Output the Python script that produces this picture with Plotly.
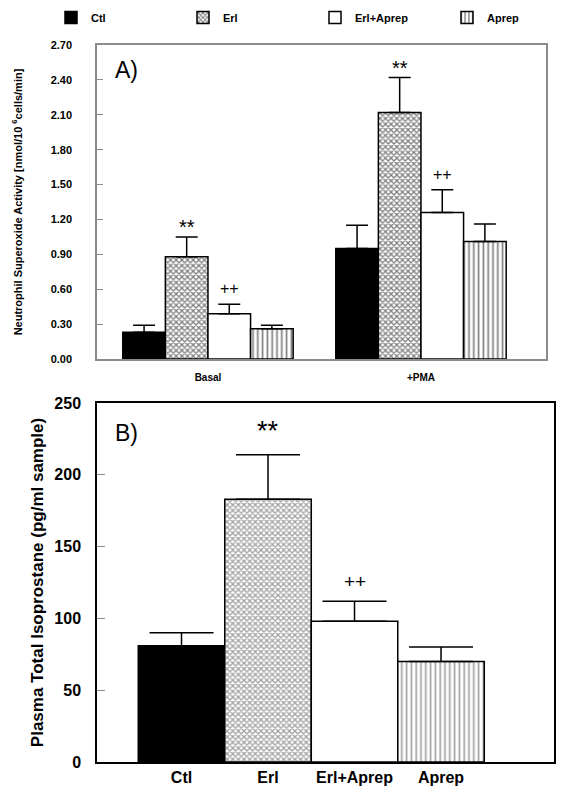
import plotly.graph_objects as go

# ---------------- data ----------------
groups_a = ["Basal", "+PMA"]
group_pos_a = [0, 1]
treatments = ["Ctl", "Erl", "Erl+Aprep", "Aprep"]

a_values = {
    "Ctl": [0.23, 0.95],
    "Erl": [0.88, 2.12],
    "Erl+Aprep": [0.39, 1.26],
    "Aprep": [0.26, 1.01],
}
a_errors = {
    "Ctl": [0.06, 0.20],
    "Erl": [0.17, 0.30],
    "Erl+Aprep": [0.08, 0.195],
    "Aprep": [0.03, 0.15],
}
a_ticks = [0.00, 0.30, 0.60, 0.90, 1.20, 1.50, 1.80, 2.10, 2.40, 2.70]

b_pos = [0, 1, 2, 3]
b_values = [81, 183, 98, 70]
b_errors = [9, 31, 14, 10]
b_ticks = [0, 50, 100, 150, 200, 250]

sig_marks = {"Erl": "**", "Erl+Aprep": "++"}

# ---------------- layout helpers (page has an 8px body margin) ----------------
OFF = 8
W, H = 575 - OFF, 788 - OFF


def px(x):
    return (x - OFF) / W


def py(y):
    return 1 - (y - OFF) / H


# ---------------- styles ----------------
FONT = "Arial, Liberation Sans, sans-serif"
styles = {
    "Ctl": dict(color="black", pattern=dict(shape="")),
    "Erl": dict(color="white", pattern=dict(shape="x", size=4, solidity=0.55, fgcolor="black", bgcolor="white")),
    "Erl+Aprep": dict(color="white", pattern=dict(shape="")),
    "Aprep": dict(color="white", pattern=dict(shape="|", size=4.8, solidity=0.35, fgcolor="black", bgcolor="white")),
}

fig = go.Figure()

for t in treatments:
    st = styles[t]
    fig.add_trace(go.Bar(
        x=group_pos_a, y=a_values[t], name=t,
        marker=dict(color=st["color"], pattern=st["pattern"], line=dict(color="black", width=1.5)),
        error_y=dict(type="data", symmetric=False, array=a_errors[t], arrayminus=[0] * len(a_errors[t]),
                     color="black", thickness=1.5, width=11),
        xaxis="x", yaxis="y", offsetgroup=t,
    ))

fig.add_trace(go.Bar(
    x=b_pos, y=b_values, width=1, showlegend=False,
    marker=dict(color=[styles[t]["color"] for t in treatments],
                pattern=dict(shape=[styles[t]["pattern"]["shape"] for t in treatments],
                             size=[4, 4, 4, 4.8], solidity=[0.3, 0.55, 0.3, 0.35],
                             fgcolor="black", bgcolor="white"),
                line=dict(color="black", width=1.5)),
    error_y=dict(type="data", symmetric=False, array=b_errors, arrayminus=[0] * len(b_errors),
                 color="black", thickness=1.5, width=32),
    xaxis="x2", yaxis="y2",
))

annotations = []
# significance marks panel A
bar_w = 0.2
for i, t in enumerate(treatments):
    if t in sig_marks:
        for g, gp in enumerate(group_pos_a):
            xx = gp + (i - 1.5) * bar_w
            annotations.append(dict(
                x=xx, y=a_values[t][g] + a_errors[t][g], xref="x", yref="y",
                text=sig_marks[t], showarrow=False, yanchor="bottom",
                yshift=-3 if t == "Erl" else 5,
                font=dict(family=FONT, size=20 if t == "Erl" else 16, color="black"),
            ))
# panel B
for i, t in enumerate(treatments):
    if t in sig_marks:
        annotations.append(dict(
            x=b_pos[i], y=b_values[i] + b_errors[i], xref="x2", yref="y2",
            text=sig_marks[t], showarrow=False, yanchor="bottom",
            yshift=7 if t == "Erl" else 7,
            font=dict(family=FONT, size=27 if t == "Erl" else 19, color="black"),
        ))

annotations.append(dict(x=px(113), y=py(70), xref="paper", yref="paper", text="A)",
                        showarrow=False, xanchor="left", yanchor="middle",
                        font=dict(family=FONT, size=23, color="black")))
annotations.append(dict(x=px(113), y=py(433), xref="paper", yref="paper", text="B)",
                        showarrow=False, xanchor="left", yanchor="middle",
                        font=dict(family=FONT, size=23, color="black")))

grey = "#8c8c8c"
fig.update_layout(
    width=W, height=H,
    margin=dict(l=0, r=0, t=0, b=0, autoexpand=False),
    paper_bgcolor="white", plot_bgcolor="white",
    barmode="group", bargap=0.2, bargroupgap=0,
    showlegend=True,
    legend=dict(orientation="h", x=43 / W, y=1 + 5 / H, xanchor="left", yanchor="top",
                xref="paper", yref="paper",
                entrywidth=87, entrywidthmode="pixels",
                font=dict(family=FONT, size=11, color="black", weight="bold"),
                bgcolor="rgba(0,0,0,0)"),
    annotations=annotations,
    xaxis=dict(domain=[px(97), px(546)], range=[-0.521, 1.587],
               tickvals=group_pos_a, ticktext=groups_a, ticks="",
               showline=True, mirror=True, linecolor=grey, linewidth=1.5,
               showgrid=False, zeroline=False, ticklabelstandoff=8, automargin=False,
               tickfont=dict(family=FONT, size=10, color="black", weight="bold"),
               anchor="y"),
    yaxis=dict(domain=[py(359), py(45)], range=[0, 2.7],
               tickvals=a_ticks, tickformat=".2f", ticks="inside", ticklen=6, tickcolor=grey,
               showline=True, mirror=True, linecolor=grey, linewidth=1.5,
               showgrid=False, zeroline=False, ticklabelstandoff=21, automargin=False,
               tickfont=dict(family=FONT, size=11, color="black", weight="bold"),
               title=dict(text="Neutrophil Superoxide Activity [nmol/10 <sup>6</sup>cells/min]",
                          font=dict(family=FONT, size=11, color="black", weight="bold"), standoff=26),
               anchor="x"),
    xaxis2=dict(domain=[px(97), px(554)], range=[-0.977, 4.306],
                tickvals=b_pos, ticktext=treatments, ticks="",
                showline=True, mirror=True, linecolor="black", linewidth=1.5,
                showgrid=False, zeroline=False, ticklabelstandoff=0, automargin=False,
                tickfont=dict(family=FONT, size=16, color="black", weight="bold"),
                anchor="y2"),
    yaxis2=dict(domain=[py(762), py(403)], range=[0, 250],
                tickvals=b_ticks, ticks="inside", ticklen=8, tickcolor=grey,
                showline=True, mirror=True, linecolor="black", linewidth=1.5,
                showgrid=False, zeroline=False, ticklabelstandoff=11, automargin=False,
                tickfont=dict(family=FONT, size=16, color="black", weight="bold"),
                title=dict(text="Plasma Total Isoprostane (pg/ml sample)",
                           font=dict(family=FONT, size=17, color="black", weight="bold"), standoff=6),
                anchor="x2"),
)

fig.write_html("out.html")
